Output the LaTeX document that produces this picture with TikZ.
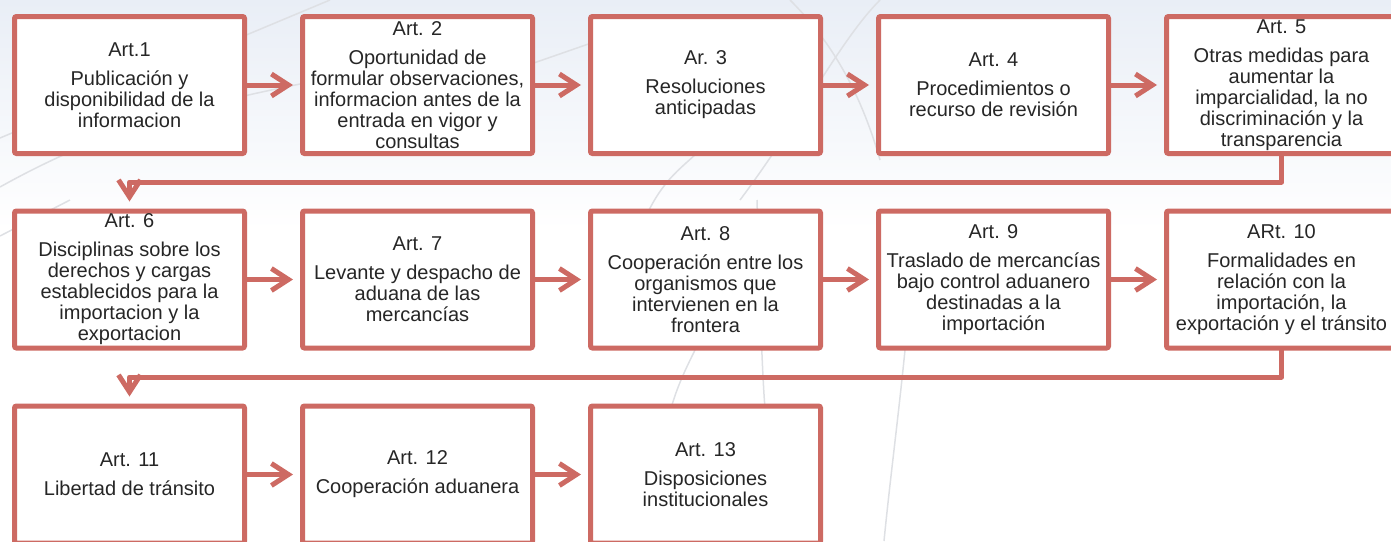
\documentclass[tikz,border=0pt]{standalone}
\usepackage{fontspec}
\setmainfont{Liberation Sans}
\usetikzlibrary{arrows.meta}
\definecolor{boxred}{RGB}{205,106,99}
\definecolor{txt}{RGB}{38,38,38}
\definecolor{bgtop}{RGB}{233,238,246}
\definecolor{deco}{RGB}{222,224,228}
\tikzset{
  artbox/.style={draw=boxred, line width=5pt, fill=white, rounded corners=2pt,
    minimum width=230pt, minimum height=137pt, inner sep=0pt, align=center,
    text=txt, font=\fontsize{20}{21}\selectfont},
  flow/.style={draw=boxred, line width=5pt, line cap=round, line join=round,
    -{Straight Barb[length=17pt,width=22pt]}, shorten >=7pt},
  decoline/.style={draw=deco, line width=1.5pt}
}
\begin{document}
\begin{tikzpicture}[x=1pt,y=-1pt]
\useasboundingbox (0,0) rectangle (1391,541);
\clip (0,0) rectangle (1391,541);
\shade[top color=bgtop, bottom color=white] (0,0) rectangle (1391,230);
% decorative background lines
\draw[decoline] (0,138) -- (330,0);
\draw[decoline] (0,187) .. controls (120,120) and (220,100) .. (330,78);
\draw[decoline] (0,236) -- (70,200);
\draw[decoline] (790,0) .. controls (830,40) and (860,90) .. (880,160);
\draw[decoline] (880,0) .. controls (840,40) and (800,120) .. (740,200);
\draw[decoline] (640,230) .. controls (660,180) and (680,170) .. (700,150);
\draw[decoline] (757,200) .. controls (760,300) and (762,380) .. (766,420);
\draw[decoline] (700,340) .. controls (685,370) and (675,390) .. (668,420);
\draw[decoline] (905,350) .. controls (898,420) and (890,480) .. (884,541);
\draw[decoline] (528,65) -- (600,40);

% boxes
\node[artbox] (b1) at (129.5,85) {Art.1\\[8pt]Publicación y\\disponibilidad de la\\informacion};
\node[artbox] (b2) at (417.5,85) {Art. 2\\[8pt]Oportunidad de\\formular observaciones,\\informacion antes de la\\entrada en vigor y\\consultas};
\node[artbox] (b3) at (705.5,85) {Ar. 3\\[8pt]Resoluciones\\anticipadas};
\node[artbox] (b4) at (993.5,85) {Art. 4\\[8pt]Procedimientos o\\recurso de revisión};
\node[artbox] (b5) at (1281.5,85) {Art. 5\\[8pt]Otras medidas para\\aumentar la\\imparcialidad, la no\\discriminación y la\\transparencia};

\node[artbox] (b6) at (129.5,279.5) {Art. 6\\[8pt]Disciplinas sobre los\\derechos y cargas\\establecidos para la\\importacion y la\\exportacion};
\node[artbox] (b7) at (417.5,279.5) {Art. 7\\[8pt]Levante y despacho de\\aduana de las\\mercancías};
\node[artbox] (b8) at (705.5,279.5) {Art. 8\\[8pt]Cooperación entre los\\organismos que\\intervienen en la\\frontera};
\node[artbox] (b9) at (993.5,279.5) {Art. 9\\[8pt]Traslado de mercancías\\bajo control aduanero\\destinadas a la\\importación};
\node[artbox] (b10) at (1281.5,279.5) {ARt. 10\\[8pt]Formalidades en\\relación con la\\importación, la\\exportación y el tránsito};

\node[artbox] (b11) at (129.5,474.5) {Art. 11\\[8pt]Libertad de tránsito};
\node[artbox] (b12) at (417.5,474.5) {Art. 12\\[8pt]Cooperación aduanera};
\node[artbox] (b13) at (705.5,474.5) {Art. 13\\[8pt]Disposiciones\\institucionales};

% bend points
\coordinate (t1) at (129.5,182);
\coordinate (t2) at (129.5,377);

% connectors
\draw[flow] (b1.east) -- (b2.west);
\draw[flow] (b2.east) -- (b3.west);
\draw[flow] (b3.east) -- (b4.west);
\draw[flow] (b4.east) -- (b5.west);
\draw[flow] (b5.south) |- (t1) -- (b6.north);
\draw[flow] (b6.east) -- (b7.west);
\draw[flow] (b7.east) -- (b8.west);
\draw[flow] (b8.east) -- (b9.west);
\draw[flow] (b9.east) -- (b10.west);
\draw[flow] (b10.south) |- (t2) -- (b11.north);
\draw[flow] (b11.east) -- (b12.west);
\draw[flow] (b12.east) -- (b13.west);
\end{tikzpicture}
\end{document}
